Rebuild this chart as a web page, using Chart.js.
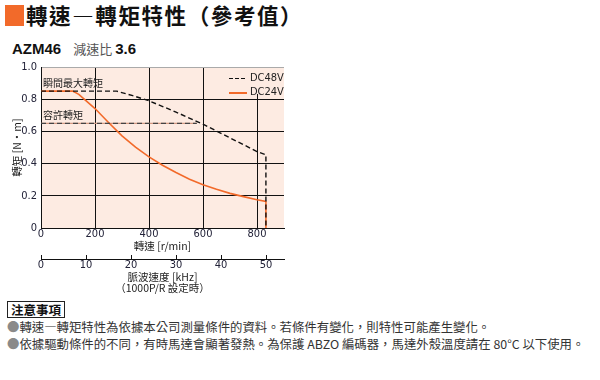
<!DOCTYPE html>
<html><head><meta charset="utf-8">
<script src="https://cdn.jsdelivr.net/npm/chart.js@4/dist/chart.umd.min.js"></script>
<style>
html,body{margin:0;padding:0;background:#fff;width:600px;height:380px;overflow:hidden;font-family:'Noto Sans CJK TC','Liberation Sans',sans-serif;position:relative;}
.abs{position:absolute;white-space:nowrap;}
#sq{left:5px;top:5px;width:19px;height:21px;background:#f26a2a;}
#title{left:26px;top:2px;font-size:21.5px;font-weight:bold;line-height:26px;color:#111;letter-spacing:1.6px;}
#sub{left:12px;top:37px;line-height:20px;color:#111;}
#sub .m{font-family:'Liberation Sans',sans-serif;font-weight:bold;font-size:15px;}
#sub .r{font-size:13px;color:#555;margin-left:12px;}
#sub .v{font-family:'Liberation Sans',sans-serif;font-weight:bold;font-size:15px;margin-left:3px;}
#c{position:absolute;left:0;top:55px;width:300px;height:245px;}
.ann{font-size:10px;color:#222;line-height:12px;}
#leg{left:224px;top:68px;width:60px;height:26px;background:#fdebe2;}
.lrow{position:absolute;left:5px;height:12px;}
.lsw{position:absolute;left:0;top:6px;width:18px;height:0;}
.ltx{position:absolute;left:21px;top:0;font-family:'Liberation Sans Narrow','DejaVu Sans Condensed',sans-serif;font-size:11px;line-height:12px;color:#222;}
#notehead{left:7px;top:301px;height:15px;padding:0 3px;border:1.5px solid #222;font-size:12.5px;font-weight:bold;line-height:15px;color:#111;}
.note{left:7px;font-size:12.4px;line-height:16px;color:#333;}
.note .b{color:#8a8a8a;}
</style>
</head><body>
<div id="sq" class="abs"></div>
<div id="title" class="abs">轉速―轉矩特性（參考值）</div>
<div id="sub" class="abs"><span class="m">AZM46</span><span class="r">減速比</span><span class="v">3.6</span></div>
<canvas id="c" width="300" height="245"></canvas>
<div id="a1" class="abs ann">瞬間最大轉矩</div>
<div id="a2" class="abs ann">容許轉矩</div>
<div id="leg" class="abs"></div>
<div id="notehead" class="abs">注意事項</div>
<div id="n1" class="abs note" style="top:319px"><span class="b">●</span>轉速―轉矩特性為依據本公司測量條件的資料。若條件有變化，則特性可能產生變化。</div>
<div id="n2" class="abs note" style="top:336px"><span class="b">●</span>依據驅動條件的不同，有時馬達會顯著發熱。為保護 ABZO 編碼器，馬達外殼溫度請在 80°C 以下使用。</div>
<script>
// ---- data ----
const speedDC48  = [0, 280, 340, 400, 500, 600, 700, 800, 833, 833];
const torqueDC48 = [0.85, 0.85, 0.822, 0.79, 0.72, 0.645, 0.56, 0.475, 0.455, 0];
const speedDC24  = [0, 117, 140, 160, 200, 250, 300, 350, 400, 450, 500, 550, 600, 650, 700, 750, 800, 833, 833];
const torqueDC24 = [0.85, 0.85, 0.83, 0.80, 0.742, 0.655, 0.572, 0.502, 0.442, 0.39, 0.345, 0.303, 0.268, 0.24, 0.215, 0.195, 0.175, 0.165, 0];
const speedRated  = [0, 577];
const torqueRated = [0.65, 0.65];
const seriesNames = ['DC48V', 'DC24V'];
const speedTicks  = [0, 200, 400, 600, 800];
const pulseTicks  = [0, 10, 20, 30, 40, 50];
const torqueTicks = [0, 0.2, 0.4, 0.6, 0.8, 1.0];
const speedMax = 900, pulseMax = 54, torqueMax = 1.0;
const annMax = '瞬間最大轉矩', annRated = '容許轉矩';
const annMaxValue = 0.85, annRatedValue = 0.65;

const pts = (xs, ys) => xs.map((x, i) => ({x, y: ys[i]}));
const BLACK = '#111', ORANGE = '#f26a2a', PINK = '#fdebe2';
const tickFont = {family: "'Liberation Sans Narrow','DejaVu Sans Condensed',sans-serif", size: 11};
const titleFont = {family: "'Liberation Sans Narrow','Noto Sans CJK TC',sans-serif", size: 10.5};

const bgPlugin = {
  id: 'bg',
  beforeDraw(chart) {
    const a = chart.chartArea, ctx = chart.ctx;
    ctx.save(); ctx.fillStyle = PINK;
    ctx.fillRect(a.left, a.top, a.right - a.left, a.bottom - a.top);
    ctx.restore();
  }
};

const chart = new Chart(document.getElementById('c'), {
  type: 'line',
  data: {
    datasets: [
      {label: seriesNames[0], data: pts(speedDC48, torqueDC48), borderColor: BLACK, borderWidth: 1.4, borderDash: [5, 3], pointRadius: 0, fill: false, xAxisID: 'x', yAxisID: 'y'},
      {label: annRated, data: pts(speedRated, torqueRated), borderColor: '#444', borderWidth: 1.4, borderDash: [5, 3], pointRadius: 0, fill: false},
      {label: seriesNames[1], data: pts(speedDC24, torqueDC24), borderColor: ORANGE, borderWidth: 1.6, pointRadius: 0, fill: false},
      {label: annRated + '_u', data: pts(speedRated, torqueRated), borderColor: '#d49a84', borderWidth: 1.4, pointRadius: 0, fill: false}
    ]
  },
  options: {
    responsive: false, animation: false, devicePixelRatio: 1,
    layout: {padding: {left: 0, right: 16, top: 12, bottom: 0}},
    plugins: {legend: {display: false}, tooltip: {enabled: false}},
    scales: {
      x: {
        type: 'linear', position: 'bottom', min: 0, max: speedMax, weight: 0,
        afterBuildTicks: s => { s.ticks = speedTicks.map(v => ({value: v})); },
        afterFit: s => { s.height = 31; },
        ticks: {font: tickFont, color: '#222238', padding: 0, maxRotation: 0, includeBounds: false},
        grid: {color: BLACK, lineWidth: 1, drawTicks: false},
        border: {color: BLACK, width: 1},
        title: {display: true, text: '轉速 [r/min]', font: titleFont, color: '#222', padding: {top: 0, bottom: 6.5}}
      },
      x2: {
        type: 'linear', position: 'bottom', min: 0, max: pulseMax, weight: 1,
        afterBuildTicks: s => { s.ticks = pulseTicks.map(v => ({value: v})); },
        afterFit: s => { s.height = 41; },
        ticks: {font: tickFont, color: '#222238', padding: 4, maxRotation: 0, includeBounds: false},
        grid: {drawOnChartArea: false, color: BLACK, lineWidth: 1, tickLength: -4},
        border: {color: BLACK, width: 1},
        title: {display: true, text: ['脈波速度 [kHz]', '（1000P/R 設定時）'], font: Object.assign({}, titleFont, {lineHeight: '11px'}), color: '#222', padding: {top: 0, bottom: 6}}
      },
      y: {
        type: 'linear', min: 0, max: torqueMax,
        afterBuildTicks: s => { s.ticks = torqueTicks.map(v => ({value: v})); },
        afterFit: s => { s.width = 41; },
        ticks: {font: tickFont, color: '#222238', padding: 4, callback: v => v === 0 ? '0' : Number(v).toFixed(1)},
        grid: {color: c => (c.tick && c.tick.value >= 0.999) ? '#aaa' : BLACK, lineWidth: 1, drawTicks: false},
        border: {color: BLACK, width: 1},
        title: {display: true, text: '轉矩 [N·m]', font: titleFont, color: '#222', padding: {top: 11, bottom: 0}}
      }
    }
  },
  plugins: [bgPlugin]
});

// place annotations and legend using the chart's scales
const top0 = 55;
const ys = chart.scales.y, xs = chart.scales.x;
const a1 = document.getElementById('a1'), a2 = document.getElementById('a2');
a1.textContent = annMax; a2.textContent = annRated;
a1.style.left = (xs.getPixelForValue(0) + 2) + 'px';
a1.style.top = (top0 + ys.getPixelForValue(annMaxValue) - 14) + 'px';
a2.style.left = (xs.getPixelForValue(0) + 2) + 'px';
a2.style.top = (top0 + ys.getPixelForValue(annRatedValue) - 14) + 'px';

const leg = document.getElementById('leg');
const legStyles = [
  'background:repeating-linear-gradient(to right,#111 0 4px,transparent 4px 6px);height:1.4px;',
  'background:' + ORANGE + ';height:1.6px;'
];
seriesNames.forEach((n, i) => {
  const r = document.createElement('div');
  r.className = 'lrow'; r.style.top = (4 + i * 14) + 'px';
  r.innerHTML = '<div class="lsw" style="' + legStyles[i] + '"></div><div class="ltx">' + n + '</div>';
  leg.appendChild(r);
});
</script>
</body></html>
